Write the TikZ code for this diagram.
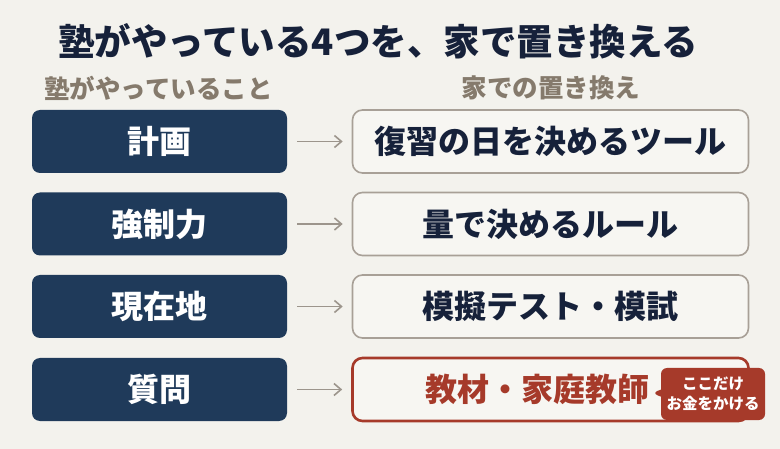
\documentclass[tikz,border=0pt]{standalone}
\usepackage{fontspec}
\setmainfont{Noto Sans CJK JP}
\newfontfamily\heavyjp{Noto Sans CJK JP Black}
\usetikzlibrary{arrows.meta,shapes.callouts}
\definecolor{bgc}{HTML}{F3F2ED}
\definecolor{navy}{HTML}{1F3A5A}
\definecolor{titlec}{HTML}{16213A}
\definecolor{headc}{HTML}{857A6C}
\definecolor{arrowc}{HTML}{9C958C}
\definecolor{rborder}{HTML}{A8A097}
\definecolor{redc}{HTML}{A63A2A}
\definecolor{rfill}{HTML}{F7F6F2}
\tikzset{
  leftbox/.style={fill=navy, draw=none, rounded corners=8pt, minimum width=255pt, minimum height=63pt, text=white, font=\bfseries\fontsize{32}{36}\selectfont, inner sep=0pt},
  rightbox/.style={fill=rfill, draw=rborder, line width=1.6pt, rounded corners=10pt, minimum width=396pt, minimum height=63pt, text=titlec, font=\bfseries\fontsize{32}{36}\selectfont, inner sep=0pt},
  redbox/.style={rightbox, draw=redc, line width=2.6pt, text=redc},
  conn/.style={draw=arrowc, line width=1.6pt, -{Straight Barb[length=7pt,width=12pt,line width=1.6pt]}},
  headtext/.style={text=headc, font=\bfseries\fontsize{25.5}{30}\selectfont},
  badge/.style={rectangle callout, fill=redc, text=white, rounded corners=6pt, minimum width=104pt, minimum height=52pt, inner sep=0pt, align=center, font=\bfseries\fontsize{15.5}{20}\selectfont}
}
\begin{document}
\begin{tikzpicture}[x=1pt,y=-1pt]
\fill[bgc] (0,0) rectangle (780,449);
\useasboundingbox (0,0) rectangle (780,449);
\node[text=titlec, font=\heavyjp\fontsize{36.5}{42}\selectfont] (title) at (378,41) {塾がやっている4つを、家で置き換える};
\node[headtext] (hl) at (158.5,88) {塾がやっていること};
\node[headtext] (hr) at (551,88) {家での置き換え};

\node[leftbox] (l1) at (159.5,141.5) {計画};
\node[leftbox] (l2) at (159.5,224) {強制力};
\node[leftbox] (l3) at (159.5,306.5) {現在地};
\node[leftbox] (l4) at (159.5,389.5) {質問};

\node[rightbox] (r1) at (550.5,141.5) {復習の日を決めるツール};
\node[rightbox] (r2) at (550.5,224) {量で決めるルール};
\node[rightbox] (r3) at (550.5,306.5) {模擬テスト・模試};
\node[redbox] (r4) at (550.5,389.5) {};
\node[text=redc, font=\bfseries\fontsize{32}{36}\selectfont] (r4t) at (537,389.5) {教材・家庭教師};

\foreach \i in {1,2,3,4}{
  \draw[conn] ([xshift=10pt]l\i.east) -- ([xshift=-9pt]r\i.west);
}

\coordinate (tip) at (652,393);
\node[badge, callout absolute pointer=(tip)] (bd) at (713,394) {ここだけ\\お金をかける};
\end{tikzpicture}
\end{document}
